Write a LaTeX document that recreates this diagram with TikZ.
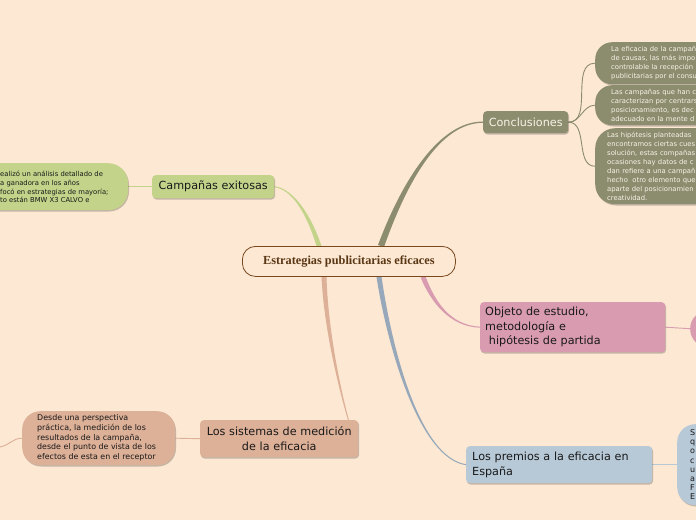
\documentclass[tikz,border=0pt]{standalone}
\usepackage{fontspec}
\setmainfont{DejaVu Sans}
\newfontfamily\titlefont{Liberation Serif}
\usetikzlibrary{calc,shadows}
\definecolor{bgc}{RGB}{253,232,211}
\definecolor{grn}{RGB}{195,212,138}
\definecolor{olv}{RGB}{140,140,110}
\definecolor{pnk}{RGB}{216,155,175}
\definecolor{slm}{RGB}{221,176,152}
\definecolor{blu}{RGB}{183,200,214}
\definecolor{bluline}{RGB}{150,168,185}
\definecolor{brn}{RGB}{120,72,30}
\definecolor{brntext}{RGB}{90,55,20}
\definecolor{txt}{RGB}{25,25,25}
\definecolor{ctxt}{RGB}{248,244,232}
\pgfdeclarelayer{back}
\pgfsetlayers{back,main}
\newcommand\taper[7]{\fill[#1] ($(#2)+(#6)$) .. controls ($(#3)+0.8*(#6)$) and ($(#4)+1.5*(#7)$) .. ($(#5)+(#7)$) -- ($(#5)-(#7)$) .. controls ($(#4)-1.5*(#7)$) and ($(#3)-0.8*(#6)$) .. ($(#2)-(#6)$) -- cycle;}
\begin{document}
\begin{tikzpicture}[x=1pt,y=-1pt,
  shd/.style={drop shadow={shadow xshift=0.8pt,shadow yshift=-1.3pt,opacity=0.22,fill=black}},
  topic/.style={shd,rounded corners=3.5pt,inner ysep=0pt,anchor=north west,text=txt,
    font=\fontsize{11.2}{14.5}\selectfont},
  sub/.style={shd,inner ysep=0pt,anchor=north west,font=\fontsize{6.8}{9}\selectfont,align=left},
  thin/.style={line width=0.9pt}]
\useasboundingbox (0,0) rectangle (696,520);
\begin{pgfonlayer}{back}
\fill[bgc] (0,0) rectangle (696,520);
\end{pgfonlayer}
\clip (0,0) rectangle (696,520);

% central topic
\node[draw=brn,line width=0.8pt,fill=bgc,rounded corners=13pt,anchor=north west,
  minimum width=213pt,minimum height=30pt,inner sep=0pt,text=brntext,
  font=\titlefont\bfseries\fontsize{12.3}{14}\selectfont] (main) at (242,246) {Estrategias publicitarias eficaces};

% main topics
\node[topic,fill=grn,minimum width=122pt,minimum height=23pt,inner xsep=0pt] (camp) at (152,175) {Campañas exitosas};
\node[topic,fill=olv,text=ctxt,minimum width=85pt,minimum height=22pt,inner xsep=0pt] (concl) at (483,111) {Conclusiones};
\node[topic,fill=pnk,minimum height=50pt,text width=175pt,inner xsep=5pt,align=left] (obj) at (480,302) {Objeto de estudio,\\metodología e\\\ hipótesis de partida};
\node[topic,fill=slm,minimum height=37pt,text width=148pt,inner xsep=5pt,align=center] (sist) at (200,420) {Los sistemas de medición\\de la eficacia};
\node[topic,fill=blu,minimum height=37pt,text width=174pt,inner xsep=6pt,align=left] (prem) at (466,446) {Los premios a la eficacia en\\España};

% subtopics
\node[shd,fill=grn,rounded corners=20pt,anchor=north west,minimum width=208pt,minimum height=47pt,inner sep=0pt] (campsub) at (-80,163) {};
\node[anchor=west,align=left,inner sep=0pt,text=txt,font=\fontsize{6.8}{8.8}\selectfont] (campsubtext) at (0,187) {ealizó un análisis detallado de\\a ganadora en los años\\focó en estrategias de mayoría;\\to están BMW X3 CALVO e};

\node[sub,fill=olv,text=ctxt,rounded corners=17pt,minimum height=42pt,text width=150pt,inner xsep=16pt] (c1) at (595,42) {La eficacia de la campañ\\de causas, las más impo\\controlable la recepción\\publicitarias por el consu};
\node[sub,fill=olv,text=ctxt,rounded corners=17pt,minimum height=40pt,text width=150pt,inner xsep=16pt] (c2) at (595,85) {Las campañas que han c\\caracterizan por centrars\\posicionamiento, es dec\\adecuado en la mente d};
\node[sub,fill=olv,text=ctxt,rounded corners=20pt,minimum height=76pt,text width=150pt,inner xsep=12pt] (c3) at (595,128) {Las hipótesis planteadas\\encontramos ciertas cues\\solución, estas compañas\\ocasiones hay datos de c\\dan refiere a una campañ\\hecho \ otro elemento que\\aparte del posicionamien\\creatividad.};

\node[shd,fill=pnk,rounded corners=17pt,anchor=north west,minimum width=60pt,minimum height=35pt,inner sep=0pt] (objsub) at (690,311) {};

\node[shd,fill=slm,rounded corners=18pt,anchor=north west,minimum width=153pt,minimum height=54pt,inner sep=0pt] (sistsub) at (22,411) {};
\node[anchor=west,align=left,inner sep=0pt,text=txt,font=\fontsize{7.9}{9.6}\selectfont] (sistsubtext) at (37,438) {Desde una perspectiva\\práctica, la medición de los\\resultados de la campaña,\\desde el punto de vista de los\\efectos de esta en el receptor};

\node[sub,fill=blu,rounded corners=18pt,minimum height=81pt,text width=40pt,inner xsep=13pt,text=txt,font=\fontsize{8}{9.2}\selectfont] (premsub) at (677,424) {S\\q\\o\\c\\u\\a\\F\\E};

\coordinate (edgeL) at (0,447);

% connectors
\begin{pgfonlayer}{back}
\coordinate (gS) at ($(main.north west)+(77,0)$);
\coordinate (oS) at ($(main.north west)+(139,0)$);
\coordinate (pS) at ($(main.south west)+(181,0)$);
\coordinate (bS) at ($(main.south west)+(137,0)$);
\coordinate (sS) at ($(main.south west)+(82,0)$);
\coordinate (sE) at ($(sist.north east)+(-10,0)$);
\taper{grn}{gS}{308,212}{292,189}{camp.east}{2.5,0}{0,-0.5}
\taper{olv}{oS}{405,180}{440,122}{concl.west}{-3,-1}{0,-0.6}
\taper{pnk}{pS}{433,302}{450,326}{obj.west}{-2.3,0.8}{0,0.5}
\taper{bluline}{bS}{390,350}{420,458}{prem.west}{-2.5,0.3}{0,0.5}
\taper{slm}{sS}{326,330}{340,390}{sE}{-2.5,0}{-0.5,0}
\draw[olv,thin] (concl.east) to[out=0,in=180] (c1.west);
\draw[olv,thin] (concl.east) to[out=0,in=180] (c2.west);
\draw[olv,thin] (concl.east) to[out=0,in=180] (c3.west);
\draw[grn,thin] (campsub.east) -- (camp.west);
\draw[pnk,thin] (obj.east) -- (objsub.west);
\draw[slm,thin] (sistsub.east) -- (sist.west);
\draw[slm,thin] (sistsub.west) to[out=180,in=10] (edgeL);
\draw[blu,thin] (prem.east) -- (premsub.west);
\end{pgfonlayer}
\end{tikzpicture}
\end{document}
